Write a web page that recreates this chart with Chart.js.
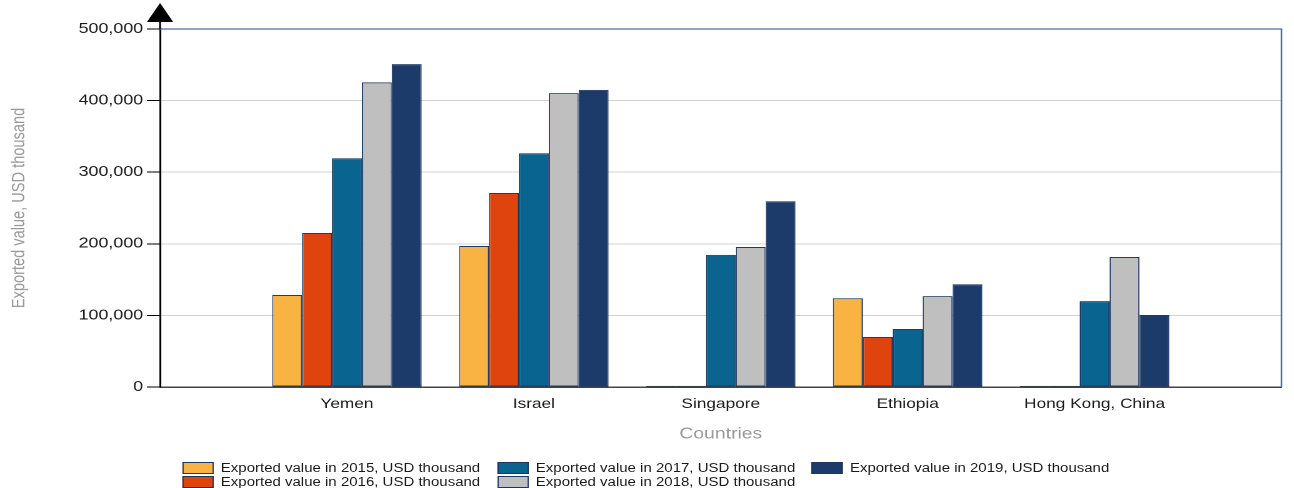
<!DOCTYPE html>
<html><head><meta charset="utf-8">
<script src="https://cdn.jsdelivr.net/npm/chart.js@4.4.1/dist/chart.umd.min.js"></script>
<style>
html,body{margin:0;padding:0;background:#fff;overflow:hidden;width:1294px;height:488px;}
#wrap{position:absolute;left:0;top:0;width:1035px;height:488px;transform:scaleX(1.25024);transform-origin:0 0;}
#c{display:block;}
#legend{position:absolute;left:0;top:0;width:1035px;height:488px;pointer-events:none;font-family:"Liberation Sans",Arial,sans-serif;font-size:12px;color:#1a1a1a;}
.li{position:absolute;height:14px;display:flex;align-items:center;white-space:nowrap;}
.sw{box-sizing:border-box;width:25px;height:12px;border:1px solid #1c3660;margin-right:6px;}
</style></head>
<body><div id="wrap"><canvas id="c"></canvas><div id="legend"></div></div>
<script>
const categories = ['Yemen', 'Israel', 'Singapore', 'Ethiopia', 'Hong Kong, China'];
const seriesNames = [
  'Exported value in 2015, USD thousand',
  'Exported value in 2016, USD thousand',
  'Exported value in 2017, USD thousand',
  'Exported value in 2018, USD thousand',
  'Exported value in 2019, USD thousand'
];
const v2015 = [128500, 197000, 1500, 124000, 1500];
const v2016 = [215000, 271000, 1500, 69800, 1500];
const v2017 = [319500, 326500, 184500, 81000, 120000];
const v2018 = [425500, 410500, 195500, 127000, 181500];
const v2019 = [451000, 415000, 259500, 143500, 100500];
const yTicks = [0, 100000, 200000, 300000, 400000, 500000];
const colors = ['#F9B342', '#E0440E', '#0A6490', '#BFBFBF', '#1C3A6A'];

const seriesValues = [v2015, v2016, v2017, v2018, v2019];
const labels = [''].concat(categories, ['']);
const datasets = seriesValues.map((vals, i) => ({
  label: seriesNames[i],
  data: [null].concat(vals, [null]),
  backgroundColor: colors[i],
  borderColor: '#1f3a63',
  borderWidth: 1,
  borderSkipped: false,
  categoryPercentage: 0.8,
  barPercentage: 1.0
}));

const framePlugin = {
  id: 'frame',
  afterDraw(chart) {
    const {ctx, chartArea: {left, right, top, bottom}} = chart;
    ctx.save();
    ctx.strokeStyle = '#4f6c9e';
    ctx.lineWidth = 1.3;
    ctx.beginPath();
    ctx.moveTo(left, top);
    ctx.lineTo(right, top);
    ctx.lineTo(right, bottom);
    ctx.stroke();
    ctx.strokeStyle = '#000';
    ctx.lineWidth = 1.5;
    ctx.beginPath();
    ctx.moveTo(left, top);
    ctx.lineTo(left, top - 8);
    ctx.stroke();
    ctx.fillStyle = '#000';
    ctx.beginPath();
    ctx.moveTo(left, top - 26);
    ctx.lineTo(left - 10.5, top - 7);
    ctx.lineTo(left + 10.5, top - 7);
    ctx.closePath();
    ctx.fill();
    ctx.restore();
  }
};

const FONT = '"Liberation Sans", Arial, sans-serif';
new Chart(document.getElementById('c'), {
  type: 'bar',
  data: {labels, datasets},
  options: {
    responsive: true,
    maintainAspectRatio: false,
    devicePixelRatio: 2,
    animation: false,
    layout: {padding: {left: 0, right: 10, top: 29, bottom: 46}},
    plugins: {legend: {display: false}, tooltip: {enabled: false}},
    scales: {
      x: {
        offset: false,
        grid: {display: false, drawTicks: false},
        border: {display: true, color: '#444', width: 1.5},
        ticks: {autoSkip: false, maxRotation: 0, padding: 9, color: '#1a1a1a', font: {family: FONT, size: 13.8}},
        title: {display: true, text: 'Countries', color: '#999', padding: 0, font: {family: FONT, size: 15.5, lineHeight: 1}},
        afterFit(s) { s.height = 55; }
      },
      y: {
        min: 0, max: 500000,
        afterBuildTicks(s) { s.ticks = yTicks.map(v => ({value: v})); },
        grid: {
          color: c => (c.tick && (c.tick.value === 0 || c.tick.value === 500000)) ? 'rgba(0,0,0,0)' : '#d2d2d2',
          tickColor: '#000', tickLength: 10.5, lineWidth: 1
        },
        border: {display: true, color: '#000', width: 1.5},
        ticks: {padding: 3, color: '#1a1a1a', font: {family: FONT, size: 14.3},
          callback: v => Number(v).toLocaleString('en-US')},
        title: {display: true, text: 'Exported value, USD thousand', color: '#999', padding: {top: 8, bottom: 0}, font: {family: FONT, size: 14.6, lineHeight: 1}},
        afterFit(s) { s.width = 128; }
      }
    }
  },
  plugins: [framePlugin]
});

const legendX = [145.6, 397.6, 648.8];
const legendY = [467.5, 481.5];
const leg = document.getElementById('legend');
seriesNames.forEach((name, i) => {
  const col = Math.floor(i / 2), row = i % 2;
  const d = document.createElement('div');
  d.className = 'li';
  d.style.left = legendX[col] + 'px';
  d.style.top = (legendY[row] - 7) + 'px';
  const sw = document.createElement('span');
  sw.className = 'sw';
  sw.style.background = colors[i];
  const t = document.createElement('span');
  t.textContent = name;
  d.appendChild(sw); d.appendChild(t);
  leg.appendChild(d);
});
</script>
</body></html>
